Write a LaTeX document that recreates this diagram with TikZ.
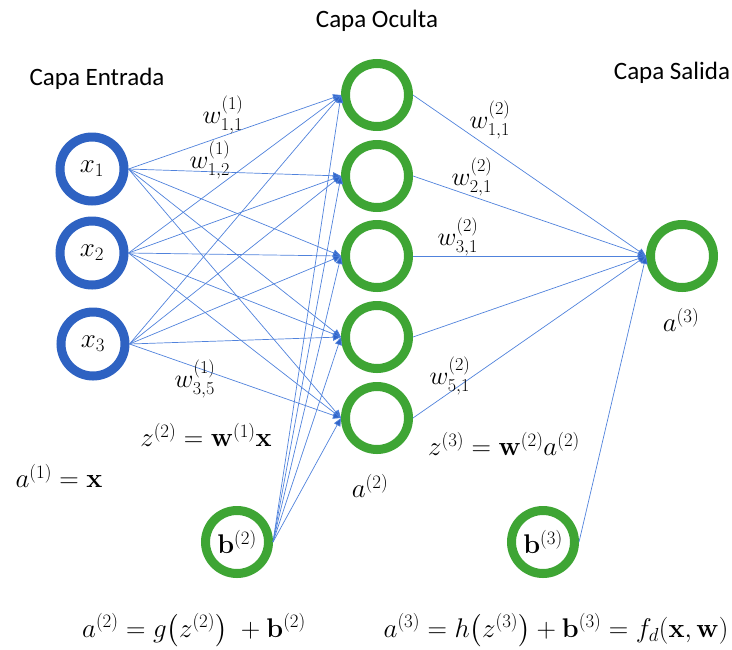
\RequirePackage{fix-cm}
\documentclass[tikz,border=0pt]{standalone}
\usepackage{amsmath,amssymb}
\usepackage[no-math]{fontspec}
\setmainfont{Carlito}
\usetikzlibrary{arrows.meta}
\definecolor{ringblue}{RGB}{46,98,194}
\definecolor{ringgreen}{RGB}{62,165,52}
\definecolor{edgeblue}{RGB}{80,130,220}
\definecolor{tipblue}{RGB}{48,100,200}

\begin{document}
\begin{tikzpicture}[x=1pt,y=-1pt,
  neuron/.style={circle, line width=9pt, minimum size=63pt, inner sep=0pt, font=\fontsize{27}{32}\selectfont},
  inp/.style={neuron, draw=ringblue, minimum size=64pt},
  hid/.style={neuron, draw=ringgreen},
  edge/.style={draw=edgeblue, line width=0.7pt, -{Triangle[length=8pt,width=7pt,fill=tipblue]}},
  lbl/.style={font=\fontsize{25}{30}\selectfont, inner sep=0pt},
  eqlbl/.style={font=\fontsize{27}{32}\selectfont, inner sep=0pt},
  wlbl/.style={font=\fontsize{26}{30}\selectfont, inner sep=0pt}]
\useasboundingbox (0,0) rectangle (732,649);

% capas
\node[lbl] (tin) at (97,79) {Capa Entrada};
\node[lbl] (thid) at (377,21) {Capa Oculta};
\node[lbl] (tout) at (672,73) {Capa Salida};

% entrada
\node[inp] (x1) at (92,169) {$x_1$};
\node[inp] (x2) at (92,253) {$x_2$};
\node[inp] (x3) at (93,344) {$x_3$};

% oculta
\foreach \j/\y in {1/95,2/176,3/256,4/337,5/418}
  \node[hid] (h\j) at (377,\y) {};

% salida y sesgos
\node[hid] (out) at (682,256) {};
\node[hid] (b2) at (237,542) {$\mathbf{b}^{(2)}$};
\node[hid] (b3) at (543,542) {$\mathbf{b}^{(3)}$};

% conexiones
\foreach \i in {1,2,3}
  \foreach \j in {1,...,5}
    \draw[edge] (x\i.east) -- (h\j.west);
\foreach \j in {1,...,5}
  \draw[edge] (b2.east) -- (h\j.west);
\foreach \j in {1,...,5}
  \draw[edge] (h\j.east) -- (out.west);
\draw[edge] (b3.east) -- (out.west);

% pesos
\node[wlbl] (w111) at (223,115) {$w^{(1)}_{1,1}$};
\node[wlbl] (w112) at (210,160) {$w^{(1)}_{1,2}$};
\node[wlbl] (w135) at (195,379) {$w^{(1)}_{3,5}$};
\node[wlbl] (w211) at (490,120) {$w^{(2)}_{1,1}$};
\node[wlbl] (w221) at (472,177) {$w^{(2)}_{2,1}$};
\node[wlbl] (w231) at (458,237) {$w^{(2)}_{3,1}$};
\node[wlbl] (w251) at (450,376) {$w^{(2)}_{5,1}$};

% ecuaciones
\node[eqlbl] (a1) at (59,476) {$a^{(1)} = \mathbf{x}$};
\node[eqlbl] (z2) at (206,435) {$z^{(2)} = \mathbf{w}^{(1)}\mathbf{x}$};
\node[eqlbl] (a2) at (370,486) {$a^{(2)}$};
\node[eqlbl] (z3) at (504,444) {$z^{(3)} = \mathbf{w}^{(2)}a^{(2)}$};
\node[eqlbl] (a3) at (681,320) {$a^{(3)}$};
\node[eqlbl] (eq2) at (194,630) {$a^{(2)} = g\bigl(z^{(2)}\bigr)\; + \mathbf{b}^{(2)}$};
\node[eqlbl] (eq3) at (556,630) {$a^{(3)} = h\bigl(z^{(3)}\bigr) + \mathbf{b}^{(3)} = f_d(\mathbf{x},\mathbf{w})$};
\end{tikzpicture}
\end{document}
